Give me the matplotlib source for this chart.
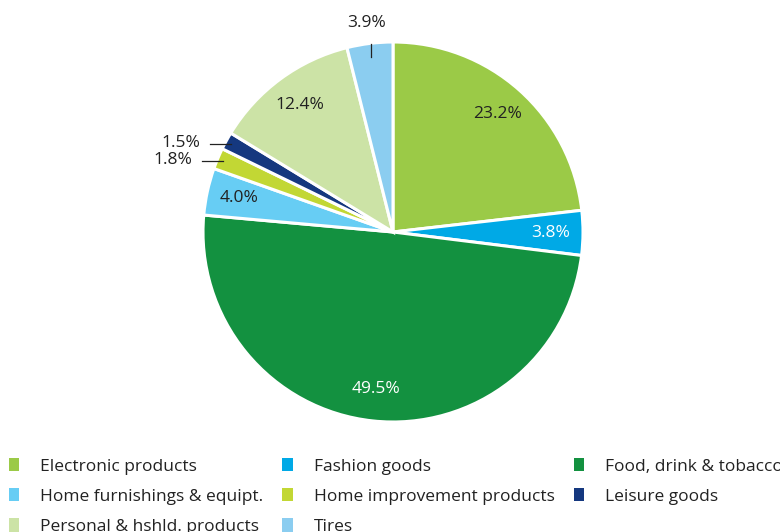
import numpy as np
import matplotlib.pyplot as plt
from matplotlib.patches import Patch

plt.rcParams['font.family'] = ['Open Sans', 'DejaVu Sans']

categories = ["Electronic products", "Fashion goods", "Food, drink & tobacco",
              "Home furnishings & equipt.", "Home improvement products",
              "Leisure goods", "Personal & hshld. products", "Tires"]
shares = [23.2, 3.8, 49.5, 4.0, 1.8, 1.5, 12.4, 3.9]
colors = ["#9bca47", "#00a9e6", "#139140", "#67cdf4",
          "#c2d734", "#15387f", "#cce3a6", "#8bcdf0"]
text_colors = ["#222222", "white", "white", "#222222",
               "#222222", "#222222", "#222222", "#222222"]

W, H = 780, 532
fig = plt.figure(figsize=(W / 100, H / 100), dpi=100)
ax = fig.add_axes([0, 0, 1, 1])

cx, cy, R = 393, H - 232, 190
wedges, _ = ax.pie(shares, colors=colors, startangle=90, counterclock=False,
                   center=(cx, cy), radius=R, frame=True,
                   wedgeprops=dict(edgecolor="white", linewidth=2.2))
ax.set_xlim(0, W)
ax.set_ylim(0, H)
ax.set_aspect("equal")
ax.axis("off")

fs = 12.5
outside = {5: "left", 4: "left", 7: "top"}
for i, w in enumerate(wedges):
    mid = np.deg2rad((w.theta1 + w.theta2) / 2)
    c, s = np.cos(mid), np.sin(mid)
    label = f"{shares[i]:.1f}%"
    if i not in outside:
        ax.text(cx + 0.83 * R * c, cy + 0.83 * R * s, label, ha="center",
                va="center", fontsize=fs, color=text_colors[i])
    elif outside[i] == "top":
        x0, y0 = cx + 0.93 * R * c, cy + 0.93 * R * s
        ax.plot([x0, x0], [y0, y0 + 13], color="#222222", lw=0.9)
        ax.text(x0 - 5, y0 + 34, label, ha="center", va="center",
                fontsize=fs, color="#222222")
    else:
        x0, y0 = cx + 0.97 * R * c, cy + 0.97 * R * s
        ax.plot([x0 - 21, x0], [y0, y0], color="#222222", lw=0.9)
        ax.text(x0 - 31, y0 + 1, label, ha="right", va="center",
                fontsize=fs, color="#222222")

# legend is filled column by column, so reorder to read row by row
order = [0, 3, 6, 1, 4, 7, 2, 5]
handles = [Patch(facecolor=colors[i], edgecolor="none") for i in order]
labels = [categories[i] for i in order]
fig.legend(handles, labels, ncol=3, loc="upper left",
           bbox_to_anchor=(2 / W, 1 - 451 / H), frameon=False,
           fontsize=12.5, handlelength=0.6, handleheight=0.8,
           handletextpad=1.2, columnspacing=1.1, labelspacing=0.78,
           borderaxespad=0, borderpad=0.4, labelcolor="#222222")

fig.savefig("out.png", dpi=100)
